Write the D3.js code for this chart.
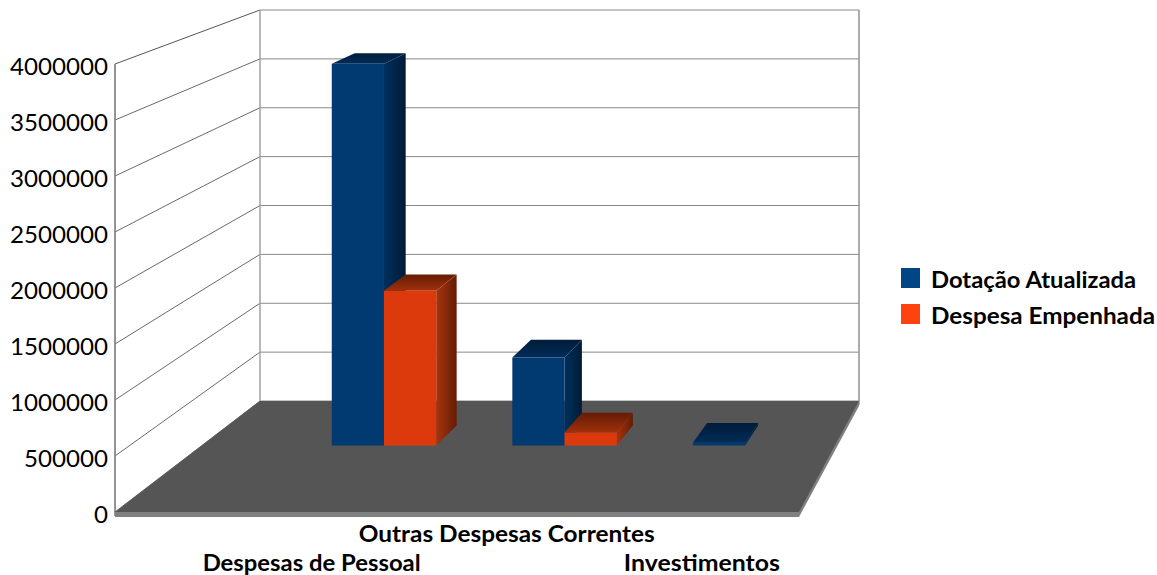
<!DOCTYPE html>
<html><head><meta charset="utf-8">
<script src="https://cdn.jsdelivr.net/npm/d3@7"></script>
<style>html,body{margin:0;background:#fff}svg{display:block}text{font-family:Lato,"Open Sans",sans-serif;fill:#000}</style>
</head><body><div id="c"></div>
<script>
const categories = ["Despesas de Pessoal","Outras Despesas Correntes","Investimentos"];
const seriesNames = ["Dotação Atualizada","Despesa Empenhada"];
const dotacao = [3690000,850000,25000];
const empenhada = [1496000,125000,null];
const tickValues = [0,500000,1000000,1500000,2000000,2500000,3000000,3500000,4000000];

const W=1157,H=575;
const svg=d3.select("#c").append("svg").attr("width",W).attr("height",H);
const defs=svg.append("defs");
function grad(id,x2,y2,a,b){const g=defs.append("linearGradient").attr("id",id).attr("x1",0).attr("y1",0).attr("x2",x2).attr("y2",y2);
 g.append("stop").attr("offset",0).attr("stop-color",a);g.append("stop").attr("offset",1).attr("stop-color",b);}
grad("bs",1,0,"#00305f","#001a36");grad("bt",0,1,"#001c3a","#002c58");
grad("rs",1,0,"#a8340f","#641c04");grad("rt",0,1,"#641c04","#a0300c");

// depth f: 0 front of floor, 1 back wall
const leftX=d3.scaleLinear().domain([0,1]).range([115,260]);
const rightX=d3.scaleLinear().domain([0,1]).range([799,859]);
const yFront=d3.scaleLinear().domain([0,4000000]).range([512,64]);
const yBack=d3.scaleLinear().domain([0,4000000]).range([401,10]);
const Y=(v,f)=>yFront(v)+(yBack(v)-yFront(v))*f;
const X=(u,f)=>leftX(f)+u*(rightX(f)-leftX(f));
const catU=d3.scalePoint().domain(categories).range([.2875,.858]);
const serU=d3.scaleBand().domain(seriesNames).range([-.0825,.0825]);
const F0=.6,F1=.78;
const pts=a=>a.map(p=>p.join(",")).join(" ");

// walls
const wall=svg.append("g");
tickValues.forEach(v=>{
 wall.append("line").attr("x1",leftX(0)).attr("y1",Y(v,0)).attr("x2",leftX(1)).attr("y2",Y(v,1))
  .attr("stroke",v===4000000?"#555":"#6a6a6a").attr("stroke-width",1);
 wall.append("line").attr("x1",leftX(1)).attr("y1",Y(v,1)).attr("x2",rightX(1)).attr("y2",Y(v,1))
  .attr("stroke","#888").attr("stroke-width",1);
 svg.append("text").attr("x",108).attr("y",Y(v,0)+10.5).attr("text-anchor","end").attr("font-size",24)
  .attr("textLength",String(v).length*14).attr("lengthAdjust","spacingAndGlyphs").text(v);
});
wall.append("line").attr("x1",leftX(0)).attr("x2",leftX(0)).attr("y1",Y(4000000,0)).attr("y2",Y(0,0)+4).attr("stroke","#707070").attr("stroke-width",1.5);
wall.append("line").attr("x1",leftX(1)).attr("x2",leftX(1)).attr("y1",Y(4000000,1)).attr("y2",Y(0,1)).attr("stroke","#a0a0a0").attr("stroke-width",1.5);
wall.append("line").attr("x1",rightX(1)).attr("x2",rightX(1)).attr("y1",Y(4000000,1)).attr("y2",Y(0,1)+4).attr("stroke","#909090").attr("stroke-width",1.5);

// floor
svg.append("polygon").attr("fill","#808080").attr("points",pts([[leftX(0),Y(0,0)],[leftX(0),Y(0,0)+5],[rightX(0),Y(0,0)+5],[rightX(1),Y(0,1)+5],[rightX(1),Y(0,1)]]));
svg.append("polygon").attr("fill","#555555").attr("points",pts([[leftX(0),Y(0,0)],[leftX(1),Y(0,1)],[rightX(1),Y(0,1)],[rightX(0),Y(0,0)]]));

// bars
function bar(cat,ser,v,front,side,top){
 if(v==null) return;
 const c=catU(cat)+serU(ser),u0=c,u1=c+serU.bandwidth();
 const g=svg.append("g");
 g.append("polygon").attr("fill",`url(#${side})`).attr("points",pts([[X(u1,F0),Y(0,F0)],[X(u1,F1),Y(0,F1)],[X(u1,F1),Y(v,F1)],[X(u1,F0),Y(v,F0)]]));
 g.append("polygon").attr("fill",`url(#${top})`).attr("points",pts([[X(u0,F0),Y(v,F0)],[X(u0,F1),Y(v,F1)],[X(u1,F1),Y(v,F1)],[X(u1,F0),Y(v,F0)]]));
 g.append("polygon").attr("fill",front).attr("points",pts([[X(u0,F0),Y(0,F0)],[X(u1,F0),Y(0,F0)],[X(u1,F0),Y(v,F0)],[X(u0,F0),Y(v,F0)]]));
}
categories.forEach((c,i)=>{
 bar(c,seriesNames[0],dotacao[i],"#003a70","bs","bt");
 bar(c,seriesNames[1],empenhada[i],"#dc3a0c","rs","rt");
});

// category labels (staggered)
const labelRow=d3.scaleOrdinal().domain(categories).range([570.5,541.5,570.5]);
const labelLen=d3.scaleOrdinal().domain(categories).range([218,296,156]);
categories.forEach(c=>{
 svg.append("text").attr("x",X(catU(c),0)).attr("y",labelRow(c)).attr("text-anchor","middle")
  .attr("font-size",22).attr("font-weight",700).attr("textLength",labelLen(c)).attr("lengthAdjust","spacingAndGlyphs").text(c);
});

// legend
const legendY=d3.scalePoint().domain(seriesNames).range([268,304]);
const legendC=d3.scaleOrdinal().domain(seriesNames).range(["#004586","#ff420e"]);
const legendLen=d3.scaleOrdinal().domain(seriesNames).range([205,224]);
seriesNames.forEach(s=>{
 svg.append("rect").attr("x",901).attr("y",legendY(s)).attr("width",19).attr("height",20).attr("fill",legendC(s));
 svg.append("text").attr("x",931).attr("y",legendY(s)+19.5).attr("font-size",22.5).attr("font-weight",700)
  .attr("textLength",legendLen(s)).attr("lengthAdjust","spacingAndGlyphs").text(s);
});
</script></body></html>
